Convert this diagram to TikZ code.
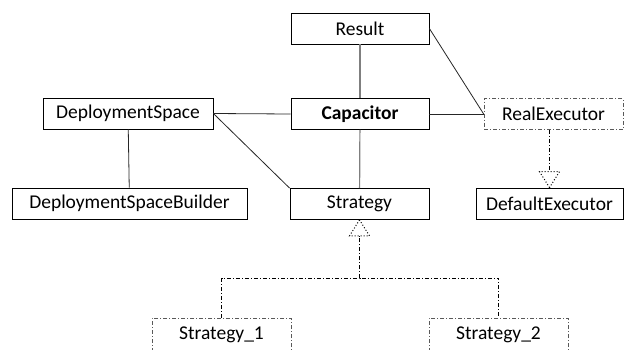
\documentclass[tikz,border=0pt]{standalone}
\usepackage{fontspec}
\setmainfont{Carlito}
\usetikzlibrary{calc}
\definecolor{lineGray}{HTML}{7F7F7F}
\definecolor{dashGray}{HTML}{595959}

\begin{document}
\begin{tikzpicture}[x=1pt, y=-1pt,
    caja/.style={draw, line width=0.8pt, inner sep=0pt, align=center,
                 minimum height=31pt, font=\fontsize{19.5}{22}\selectfont},
    cajadash/.style={caja, draw=dashGray, line width=0.7pt,
                 dash pattern=on 4pt off 2pt on 1pt off 2pt},
    assoc/.style={line width=0.8pt, color=black!85},
    vline/.style={line width=1.2pt, color=lineGray},
    herencia/.style={line width=0.7pt, color=black,
                 dash pattern=on 4pt off 2pt on 1pt off 2pt},
    tri/.style={line width=1pt, dotted, fill=white}]
    \useasboundingbox (0,0) rectangle (624,349);
    \clip (0,0) rectangle (624,349);
    \node[caja, minimum width=138pt] (res)  at (360,28.5)   {Result};
    \node[caja, minimum width=138pt] (cap)  at (360,114)    {\bfseries Capacitor};
    \node[cajadash, minimum width=139pt] (real) at (553.5,114) {RealExecutor};
    \node[caja, minimum width=170pt] (dsp)  at (128,113.5)  {DeploymentSpace};
    \node[caja, minimum width=235pt] (dspb) at (129.5,203.5) {DeploymentSpaceBuilder};
    \node[caja, minimum width=139pt] (str)  at (359.5,204)  {Strategy};
    \node[caja, minimum width=147pt] (def)  at (549.5,203.5) {DefaultExecutor};
    \node[cajadash, minimum width=139pt, minimum height=34pt] (s1) at (221.5,335) {Strategy\_1};
    \node[cajadash, minimum width=139pt, minimum height=34pt] (s2) at (498.5,335) {Strategy\_2};
    % asociaciones
    \draw[vline] (res) -- (cap);
    \draw[vline] (cap) -- (str);
    \draw[assoc] (dsp) -- (dspb);
    \draw[assoc] (dsp.east) -- (cap.west);
    \draw[assoc] (dsp.east) -- (str.north west);
    \draw[assoc] (res.east) -- (real.west);
    \draw[assoc] (cap.east) -- (real.west);
    % herencia
    \coordinate (t1) at ($(str.south)+(0,16)$);
    \coordinate (t2) at ($(def.north)+(0,-16)$);
    \draw[herencia] (s1.north) |- (t1 |- 0,278) -| (s2.north);
    \draw[herencia] (t1 |- 0,278) -- (t1);
    \draw[herencia] (real.south -| t2) -- (t2);
    \draw[tri] (str.south) -- ++(-10,16) -- ++(20,0) -- cycle;
    \draw[tri] (t2 |- def.north) -- ++(-10,-16) -- ++(20,0) -- cycle;
\end{tikzpicture}
\end{document}
